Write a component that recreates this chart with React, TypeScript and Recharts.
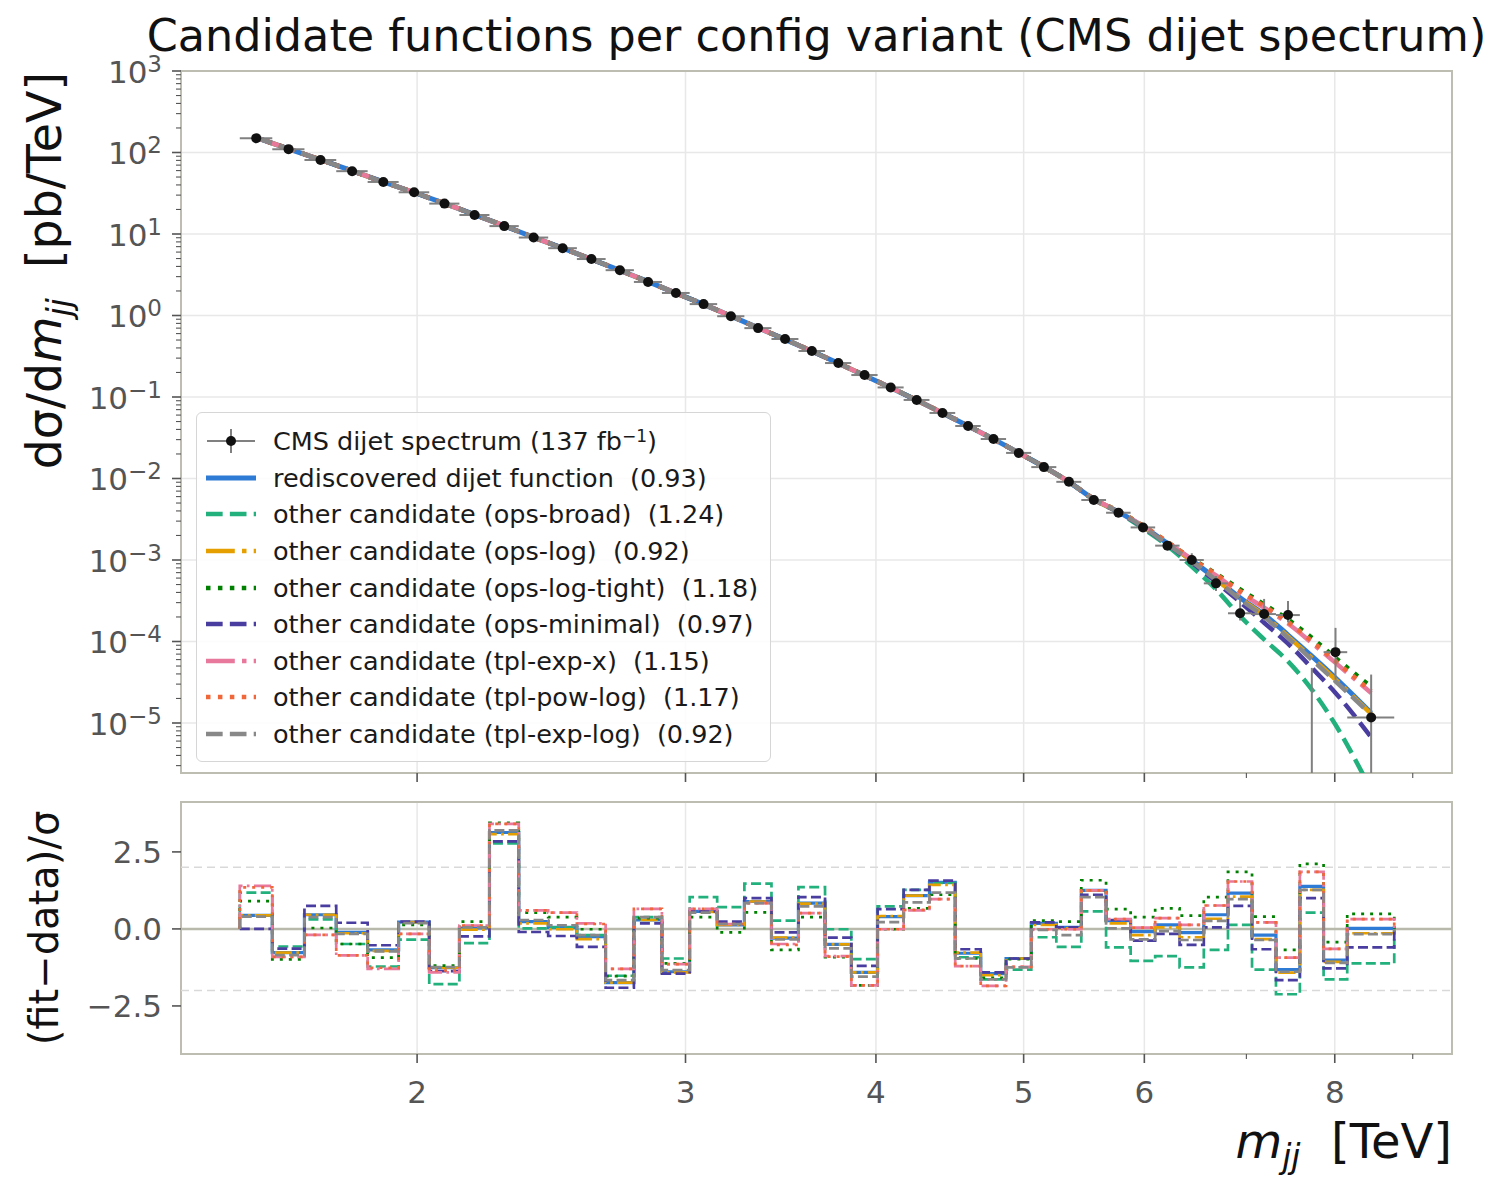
import React from "react";
import {
  CartesianGrid,
  ComposedChart,
  ErrorBar,
  Legend,
  Line,
  ReferenceArea,
  ReferenceLine,
  Scatter,
  XAxis,
  YAxis,
} from "recharts";

// CMS dijet mass bin edges [TeV]
const binEdges = [
  1.53, 1.607, 1.687, 1.77, 1.856, 1.945, 2.037, 2.132, 2.231, 2.332, 2.438,
  2.546, 2.659, 2.775, 2.895, 3.019, 3.147, 3.279, 3.416, 3.558, 3.704, 3.854,
  4.01, 4.171, 4.337, 4.509, 4.686, 4.869, 5.058, 5.253, 5.455, 5.663, 5.877,
  6.099, 6.328, 6.564, 6.808, 7.06, 7.32, 7.589, 7.866, 8.152, 8.752,
];

// measured dσ/dm_jj [pb/TeV] per bin (0 = empty bin)
const dataXsec = [
  150, 110, 81, 59, 43.5, 32.5, 23.6, 17.1, 12.5, 9.05, 6.7, 4.93, 3.6, 2.58,
  1.89, 1.38, 0.98, 0.7, 0.515, 0.367, 0.261, 0.186, 0.131, 0.092, 0.0637,
  0.0441, 0.0305, 0.0206, 0.0138, 0.0091, 0.00545, 0.0038, 0.00251, 0.0015,
  0.001, 0.000517, 0.000222, 0.000217, 0.000211, 0, 7.4e-5, 1.17e-5,
];
const dataErrLo = [
  0, 0, 0, 0, 0, 0, 0, 0, 0, 0, 0, 0, 0, 0, 0, 0, 0, 0, 0, 0, 0, 0, 0, 0, 0, 0,
  0, 0, 0, 0, 3.3e-4, 2.3e-4, 2e-4, 1.6e-4, 1.7e-4, 1.0e-4, 4.1e-5, 3.6e-5,
  4.0e-5, 0, 3.96e-5, 1.17e-5,
];
const dataErrHi = [
  0, 0, 0, 0, 0, 0, 0, 0, 0, 0, 0, 0, 0, 0, 0, 0, 0, 0, 0, 0, 0, 0, 0, 0, 0, 0,
  0, 0, 0, 0, 3.3e-4, 2.3e-4, 2e-4, 1.8e-4, 2.1e-4, 1.2e-4, 1.2e-4, 1.16e-4,
  1.03e-4, 4.5e-5, 7.3e-5, 2.76e-5,
];

// all candidate fits overlap below ~5.5 TeV
const fitCommon = [
  152, 111, 81.5, 59.5, 43.5, 32.3, 23.7, 17.3, 12.6, 9.1, 6.7, 4.9, 3.58, 2.6,
  1.88, 1.37, 0.985, 0.705, 0.51, 0.365, 0.259, 0.184, 0.13, 0.0915, 0.0638,
  0.0442, 0.0304, 0.0206, 0.0139, 0.0091,
];
// tails of each fit, last 12 bins
const tailRediscovered = [5.57e-3, 3.89e-3, 2.57e-3, 1.6e-3, 9.9e-4, 5.89e-4, 3.44e-4, 2.15e-4, 1.2e-4, 6.6e-5, 3.57e-5, 1.33e-5];
const tailOpsBroad = [5.5e-3, 3.85e-3, 2.43e-3, 1.49e-3, 8.3e-4, 4.36e-4, 2.05e-4, 1.06e-4, 5.7e-5, 2.57e-5, 9.5e-6, 1.5e-6];
const tailOpsLog = [5.57e-3, 3.88e-3, 2.56e-3, 1.59e-3, 9.8e-4, 5.8e-4, 3.38e-4, 2.09e-4, 1.15e-4, 6.3e-5, 3.41e-5, 1.29e-5];
const tailOpsLogTight = [5.65e-3, 3.97e-3, 2.64e-3, 1.66e-3, 1.04e-3, 6.79e-4, 4.36e-4, 2.85e-4, 1.86e-4, 1.11e-4, 6.3e-5, 2.77e-5];
const tailOpsMinimal = [5.55e-3, 3.87e-3, 2.54e-3, 1.56e-3, 9.3e-4, 5.37e-4, 3.05e-4, 1.7e-4, 9.4e-5, 4.74e-5, 2.34e-5, 6.7e-6];
const tailTplExpX = [5.6e-3, 3.95e-3, 2.62e-3, 1.65e-3, 1.02e-3, 6.47e-4, 3.96e-4, 2.6e-4, 1.66e-4, 9.6e-5, 5.47e-5, 2.34e-5];
const tailTplPowLog = [5.62e-3, 3.96e-3, 2.63e-3, 1.66e-3, 1.03e-3, 6.67e-4, 4.16e-4, 2.72e-4, 1.73e-4, 1.01e-4, 5.73e-5, 2.45e-5];
const tailTplExpLog = [5.55e-3, 3.87e-3, 2.55e-3, 1.56e-3, 9.6e-4, 5.68e-4, 3.28e-4, 2.01e-4, 1.11e-4, 6.0e-5, 3.25e-5, 1.26e-5];

// pulls (fit-data)/σ per bin
const pullRediscovered = [0.44, -0.77, 0.46, -0.11, -0.68, 0.22, -1.26, 0.03, 3.13, 0.24, 0.05, -0.25, -1.74, 0.29, -1.39, 0.57, 0.13, 0.89, -0.3, 0.84, -0.5, -1.41, 0.4, 1.08, 1.51, -0.79, -1.45, -0.96, 0.18, 0.05, 1.25, 0.27, -0.09, 0.13, -0.12, 0.46, 1.16, -0.2, -1.32, 1.38, -1.01, 0.02];
const pullOpsBroad = [1.18, -0.57, 0.31, -0.49, -1.22, -0.35, -1.79, -0.46, 2.78, 0.02, 0.05, -0.2, -1.52, 0.38, -0.96, 1.03, 0.71, 1.47, 0.27, 1.36, -0.01, -0.98, 0.73, 1.27, 1.49, -0.92, -1.64, -1.32, -0.27, -0.58, 0.57, -0.6, -1.04, -0.88, -1.25, -0.68, 0.13, -1.32, -2.12, 0.53, -1.64, -1.12];
const pullOpsLog = [0.44, -0.77, 0.46, -0.14, -0.71, 0.22, -1.26, -0.02, 3.08, 0.18, -0.01, -0.33, -1.74, 0.29, -1.41, 0.55, 0.13, 0.89, -0.28, 0.82, -0.5, -1.41, 0.42, 1.08, 1.43, -0.77, -1.5, -0.96, 0.13, 0.02, 1.25, 0.18, -0.2, 0.05, -0.27, 0.33, 1.05, -0.33, -1.42, 1.27, -1.07, -0.14];
const pullOpsLogTight = [0.9, -0.99, 0.03, -0.49, -0.93, 0.13, -1.19, 0.24, 3.44, 0.53, 0.38, -0.01, -1.53, 0.35, -1.12, 0.38, -0.11, 0.54, -0.68, 0.38, -0.92, -1.83, -0.01, 0.67, 1.11, -0.96, -1.59, -0.98, 0.27, 0.24, 1.58, 0.64, 0.38, 0.67, 0.43, 1.03, 1.85, 0.4, -0.68, 2.11, -0.43, 0.49];
const pullOpsMinimal = [0.0, -0.64, 0.75, 0.2, -0.53, 0.24, -1.37, -0.24, 2.84, -0.1, -0.23, -0.58, -1.91, 0.18, -1.45, 0.57, 0.24, 1.0, -0.11, 1.03, -0.28, -1.2, 0.64, 1.27, 1.57, -0.66, -1.41, -0.96, 0.21, 0.05, 1.11, 0.29, -0.38, -0.16, -0.52, 0.05, 0.75, -0.66, -1.66, 1.0, -1.28, -0.6];
const pullTplExpX = [1.4, -0.91, -0.19, -0.86, -1.3, -0.16, -1.41, 0.11, 3.41, 0.6, 0.53, 0.18, -1.3, 0.65, -1.14, 0.65, 0.16, 0.84, -0.49, 0.51, -0.88, -1.83, -0.01, 0.6, 0.97, -1.21, -1.85, -1.23, -0.01, -0.01, 1.25, 0.32, 0.04, 0.35, 0.13, 0.76, 1.54, 0.21, -0.93, 1.85, -0.65, 0.32];
const pullTplPowLog = [1.35, -0.91, -0.19, -0.86, -1.26, -0.16, -1.35, 0.11, 3.41, 0.6, 0.53, 0.16, -1.3, 0.65, -1.14, 0.65, 0.16, 0.84, -0.52, 0.51, -0.9, -1.83, -0.01, 0.62, 0.97, -1.21, -1.85, -1.23, -0.01, -0.01, 1.25, 0.32, 0.04, 0.35, 0.13, 0.76, 1.54, 0.21, -0.93, 1.85, -0.65, 0.32];
const pullTplExpLog = [0.4, -0.85, 0.38, -0.16, -0.73, 0.19, -1.24, 0.05, 3.2, 0.29, 0.12, -0.2, -1.66, 0.38, -1.34, 0.53, 0.16, 0.84, -0.34, 0.73, -0.63, -1.55, 0.22, 0.86, 1.18, -0.96, -1.64, -1.25, -0.03, -0.2, 1.03, 0.02, -0.34, -0.07, -0.36, 0.26, 0.97, -0.36, -1.39, 1.27, -1.1, -0.17];

type Style = "solid" | "dashed" | "dashdot" | "dotted";

const series = [
  { key: "rediscovered", label: "rediscovered dijet function  (0.93)", color: "#2e7bd6", style: "solid" as Style, tail: tailRediscovered, pull: pullRediscovered },
  { key: "opsBroad", label: "other candidate (ops-broad)  (1.24)", color: "#22b07d", style: "dashed" as Style, tail: tailOpsBroad, pull: pullOpsBroad },
  { key: "opsLog", label: "other candidate (ops-log)  (0.92)", color: "#e69f00", style: "dashdot" as Style, tail: tailOpsLog, pull: pullOpsLog },
  { key: "opsLogTight", label: "other candidate (ops-log-tight)  (1.18)", color: "#008000", style: "dotted" as Style, tail: tailOpsLogTight, pull: pullOpsLogTight },
  { key: "opsMinimal", label: "other candidate (ops-minimal)  (0.97)", color: "#4a3da0", style: "dashed" as Style, tail: tailOpsMinimal, pull: pullOpsMinimal },
  { key: "tplExpX", label: "other candidate (tpl-exp-x)  (1.15)", color: "#e8799c", style: "dashdot" as Style, tail: tailTplExpX, pull: pullTplExpX },
  { key: "tplPowLog", label: "other candidate (tpl-pow-log)  (1.17)", color: "#f0673a", style: "dotted" as Style, tail: tailTplPowLog, pull: pullTplPowLog },
  { key: "tplExpLog", label: "other candidate (tpl-exp-log)  (0.92)", color: "#888888", style: "dashed" as Style, tail: tailTplExpLog, pull: pullTplExpLog },
];

const FONT = "'DejaVu Sans', sans-serif";
const INK = "#555555";
const SPINE = "#bdbdb1";
const GRID = "#e8e8e8";
const X_DOMAIN: [number, number] = [1.4, 9.55];
const Y_DOMAIN: [number, number] = [2.435e-6, 1000];
const P_DOMAIN: [number, number] = [-4.06, 4.12];

const xMajor = [2, 3, 4, 5, 6, 8];
const xTicks = [2, 3, 4, 5, 6, 7, 8, 9];
const yMajor = [1e-5, 1e-4, 1e-3, 1e-2, 1e-1, 1, 10, 100, 1000];
const yTicks: number[] = [...yMajor];
for (let d = -6; d <= 2; d++) {
  for (let k = 2; k <= 9; k++) {
    const v = k * Math.pow(10, d);
    if (v >= Y_DOMAIN[0] && v <= Y_DOMAIN[1]) yTicks.push(v);
  }
}

const dash = (s: Style, lw: number) =>
  s === "dashed"
    ? `${3.7 * lw} ${1.6 * lw}`
    : s === "dashdot"
    ? `${6.4 * lw} ${1.6 * lw} ${lw} ${1.6 * lw}`
    : s === "dotted"
    ? `${lw} ${1.65 * lw}`
    : undefined;

const nTail = 12;
const spectrumRows = binEdges.slice(0, -1).map((lo, i) => {
  const hi = binEdges[i + 1];
  const m = (lo + hi) / 2;
  const empty = !(dataXsec[i] > 0);
  // an empty bin keeps only its upper error bar, starting from the axis floor
  const v = empty ? Y_DOMAIN[0] : dataXsec[i];
  const row: any = {
    m,
    empty,
    data: v,
    xErr: empty ? [0, 0] : [m - lo, hi - m],
    yErr: [v - Math.max(v - dataErrLo[i], Y_DOMAIN[0]), dataErrHi[i]],
  };
  series.forEach((s) => {
    const j = i - (binEdges.length - 1 - nTail);
    row[s.key] = j < 0 ? fitCommon[i] : s.tail[j];
  });
  return row;
});

// stairs with baseline 0 at both ends
const pullRows: any[] = [];
const nBins = binEdges.length - 1;
const pullRow = (m: number, idx: number | null) => {
  const row: any = { m };
  series.forEach((s) => (row[s.key] = idx === null ? 0 : s.pull[idx]));
  return row;
};
pullRows.push(pullRow(binEdges[0], null));
for (let i = 0; i < nBins; i++) pullRows.push(pullRow(binEdges[i], i));
pullRows.push(pullRow(binEdges[nBins], nBins - 1));
pullRows.push(pullRow(binEdges[nBins], null));

const superMinus = (n: number) => (n < 0 ? `\u2212${-n}` : `${n}`);

const LogYTick = (props: any) => {
  const { x, y, payload } = props;
  const lg = Math.log10(payload.value);
  const exp = Math.round(lg);
  const major = Math.abs(lg - exp) < 1e-6;
  return (
    <g>
      <line x1={x - (major ? 9 : 5)} x2={x} y1={y} y2={y} stroke={INK} strokeWidth={major ? 1.6 : 1.1} />
      {major && (
        <text x={x - 19} y={y + 12} textAnchor="end" fill={INK} fontSize={31} fontFamily={FONT}>
          10
          <tspan dy={-11} fontSize={23}>
            {superMinus(exp)}
          </tspan>
        </text>
      )}
    </g>
  );
};

const PullYTick = (props: any) => {
  const { x, y, payload } = props;
  const v = payload.value as number;
  const txt = v < 0 ? `\u2212${(-v).toFixed(1)}` : v.toFixed(1);
  return (
    <g>
      <line x1={x - 9} x2={x} y1={y} y2={y} stroke={INK} strokeWidth={1.6} />
      <text x={x - 19} y={y + 11} textAnchor="end" fill={INK} fontSize={31} fontFamily={FONT}>
        {txt}
      </text>
    </g>
  );
};

const makeXTick = (withLabel: boolean) => (props: any) => {
  const { x, y, payload } = props;
  const major = xMajor.includes(payload.value);
  return (
    <g>
      <line x1={x} x2={x} y1={y} y2={y + (major ? 9 : 5)} stroke={INK} strokeWidth={major ? 1.6 : 1.1} />
      {withLabel && major && (
        <text x={x} y={y + 49} textAnchor="middle" fill={INK} fontSize={31} fontFamily={FONT}>
          {payload.value}
        </text>
      )}
    </g>
  );
};

const Handle = ({ style, color, lw }: { style: Style; color: string; lw: number }) => (
  <svg width={52} height={20} style={{ display: "block" }}>
    <line x1={1} x2={51} y1={10} y2={10} stroke={color} strokeWidth={lw} strokeDasharray={dash(style, lw)} />
  </svg>
);

const LegendBox = () => (
  <div
    style={{
      background: "rgba(255,255,255,0.85)",
      border: "1.5px solid #d6d6d6",
      borderRadius: 6,
      padding: "10px 12px 9px 8px",
      fontFamily: FONT,
      fontSize: 25.5,
      color: "#1a1a1a",
      whiteSpace: "pre",
    }}
  >
    <div style={{ display: "flex", alignItems: "center", height: 36.6 }}>
      <svg width={52} height={30} style={{ display: "block" }}>
        <line x1={2} x2={50} y1={15} y2={15} stroke="#808080" strokeWidth={2} />
        <line x1={26} x2={26} y1={3} y2={27} stroke="#808080" strokeWidth={2} />
        <circle cx={26} cy={15} r={5} fill="#111" />
      </svg>
      <span style={{ marginLeft: 16 }}>
        CMS dijet spectrum (137 fb<sup style={{ fontSize: 17, verticalAlign: "8px", lineHeight: 0 }}>{"\u22121"}</sup>)
      </span>
    </div>
    {series.map((s) => (
      <div key={s.key} style={{ display: "flex", alignItems: "center", height: 36.6 }}>
        <Handle style={s.style} color={s.color} lw={s.style === "solid" ? 5 : 4.5} />
        <span style={{ marginLeft: 16 }}>{s.label}</span>
      </div>
    ))}
  </div>
);

// y label aligned to the top of the axis
const SpectrumYLabel = (props: any) => {
  const vb = props.viewBox;
  const cx = 61;
  const cy = vb.y + 1;
  return (
    <text
      x={cx}
      y={cy}
      transform={`rotate(-90, ${cx}, ${cy})`}
      textAnchor="end"
      fontSize={47.5}
      fontFamily={FONT}
      fill="#111"
      style={{ whiteSpace: "pre" }}
    >
      dσ/d<tspan fontStyle="italic">m</tspan>
      <tspan fontStyle="italic" fontSize={33} dy={10}>
        jj
      </tspan>
      <tspan dy={-10}>{"  [pb/TeV]"}</tspan>
    </text>
  );
};

const PullYLabel = (props: any) => {
  const vb = props.viewBox;
  const cx = 58;
  const cy = vb.y + vb.height / 2;
  return (
    <text
      x={cx}
      y={cy}
      transform={`rotate(-90, ${cx}, ${cy})`}
      textAnchor="middle"
      fontSize={40}
      fontFamily={FONT}
      fill="#111"
    >
      (fit{"\u2212"}data)/σ
    </text>
  );
};

const MassXLabel = (props: any) => {
  const vb = props.viewBox;
  return (
    <text
      x={vb.x + vb.width}
      y={vb.y + 104}
      textAnchor="end"
      fontSize={48}
      fontFamily={FONT}
      fill="#111"
      style={{ whiteSpace: "pre" }}
    >
      <tspan fontStyle="italic">m</tspan>
      <tspan fontStyle="italic" fontSize={33} dy={10}>
        jj
      </tspan>
      <tspan dy={-10}>{"  [TeV]"}</tspan>
    </text>
  );
};

export default function App() {
  return (
    <div style={{ position: "absolute", left: 0, top: 0, width: 1507, height: 1193, background: "#fff", fontFamily: FONT }}>
      <div
        style={{
          position: "absolute",
          left: 816.5,
          top: 11,
          transform: "translateX(-50%)",
          fontSize: 44.5,
          lineHeight: "50px",
          color: "#111",
          whiteSpace: "nowrap",
        }}
      >
        Candidate functions per config variant (CMS dijet spectrum)
      </div>

      <div style={{ position: "absolute", left: 0, top: 0 }}>
        <ComposedChart width={1507} height={790} data={spectrumRows} margin={{ top: 71, right: 55, bottom: 16, left: 180 }}>
          <CartesianGrid stroke={GRID} strokeWidth={1.5} horizontalValues={yMajor} verticalValues={xMajor} />
          <XAxis
            dataKey="m"
            type="number"
            scale="log"
            domain={X_DOMAIN}
            allowDataOverflow
            ticks={xTicks}
            interval={0}
            height={1}
            tickSize={0}
            tickMargin={0}
            axisLine={false}
            tickLine={false}
            tick={makeXTick(false)}
          />
          <YAxis
            type="number"
            scale="log"
            domain={Y_DOMAIN}
            allowDataOverflow
            ticks={yTicks}
            interval={0}
            width={1}
            tickSize={0}
            tickMargin={0}
            axisLine={false}
            tickLine={false}
            tick={LogYTick}
            label={{ content: SpectrumYLabel }}
          />
          {series.map((s) => (
            <Line
              key={s.key}
              dataKey={s.key}
              type="monotone"
              stroke={s.color}
              strokeWidth={s.style === "solid" ? 5 : 4.5}
              strokeDasharray={dash(s.style, 4.5)}
              dot={false}
              activeDot={false}
              isAnimationActive={false}
            />
          ))}
          <Scatter
            dataKey="data"
            isAnimationActive={false}
            shape={(p: any) => (p.payload && p.payload.empty ? <g /> : <circle cx={p.cx} cy={p.cy} r={5} fill="#111" />)}
          >
            <ErrorBar dataKey="yErr" direction="y" width={0} stroke="#808080" strokeWidth={2} />
            <ErrorBar dataKey="xErr" direction="x" width={0} stroke="#808080" strokeWidth={2} />
          </Scatter>
          <ReferenceArea
            x1={X_DOMAIN[0]}
            x2={X_DOMAIN[1]}
            y1={Y_DOMAIN[0]}
            y2={Y_DOMAIN[1]}
            fill="none"
            fillOpacity={0}
            stroke={SPINE}
            strokeWidth={2}
          />
          <Legend
            layout="horizontal"
            verticalAlign="middle"
            align="center"
            wrapperStyle={{ left: 196, top: 412, width: "auto" }}
            content={() => <LegendBox />}
          />
        </ComposedChart>
      </div>

      <div style={{ position: "absolute", left: 0, top: 790 }}>
        <ComposedChart width={1507} height={403} data={pullRows} margin={{ top: 12, right: 55, bottom: 138, left: 180 }}>
          <CartesianGrid stroke={GRID} strokeWidth={1.5} horizontal={false} verticalValues={xMajor} />
          <XAxis
            dataKey="m"
            type="number"
            scale="log"
            domain={X_DOMAIN}
            allowDataOverflow
            ticks={xTicks}
            interval={0}
            height={1}
            tickSize={0}
            tickMargin={0}
            axisLine={false}
            tickLine={false}
            tick={makeXTick(true)}
            label={{ content: MassXLabel }}
          />
          <YAxis
            type="number"
            domain={P_DOMAIN}
            allowDataOverflow
            ticks={[-2.5, 0, 2.5]}
            interval={0}
            width={1}
            tickSize={0}
            tickMargin={0}
            axisLine={false}
            tickLine={false}
            tick={PullYTick}
            label={{ content: PullYLabel }}
          />
          <ReferenceLine y={2} stroke="#d9d9d9" strokeWidth={1.6} strokeDasharray="8 5" />
          <ReferenceLine y={-2} stroke="#d9d9d9" strokeWidth={1.6} strokeDasharray="8 5" />
          <ReferenceLine y={0} stroke="#b9b9ab" strokeWidth={2.5} />
          {series.map((s) => (
            <Line
              key={s.key}
              dataKey={s.key}
              type="stepAfter"
              stroke={s.color}
              strokeWidth={s.style === "solid" ? 3.2 : 2.7}
              strokeDasharray={s.style === "dotted" ? "3 6" : dash(s.style, 2.7)}
              dot={false}
              activeDot={false}
              isAnimationActive={false}
            />
          ))}
          <ReferenceArea
            x1={X_DOMAIN[0]}
            x2={X_DOMAIN[1]}
            y1={P_DOMAIN[0]}
            y2={P_DOMAIN[1]}
            fill="none"
            fillOpacity={0}
            stroke={SPINE}
            strokeWidth={2}
          />
        </ComposedChart>
      </div>
    </div>
  );
}
